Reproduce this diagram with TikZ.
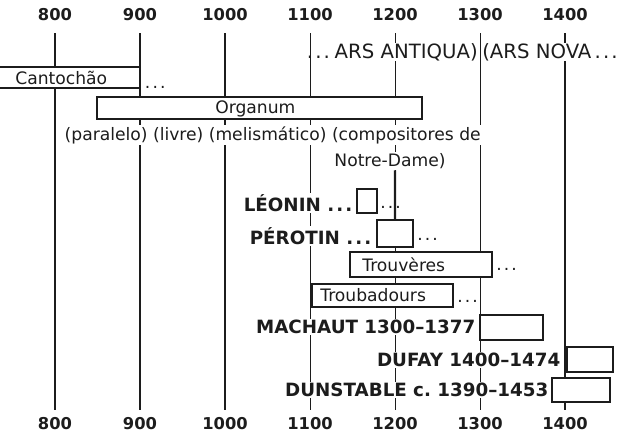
\documentclass[tikz,border=0pt]{standalone}
\usepackage{fontspec}
\setmainfont{DejaVu Sans}
\usetikzlibrary{positioning, fit}
\definecolor{ink}{HTML}{1C1C1C}
\newcommand{\tltext}{\fontsize{12.2}{14}\selectfont}
\newcommand{\tlbig}{\fontsize{14}{16}\selectfont}
\newcommand{\tldd}{.\kern1.5pt.\kern1.5pt.}
\tikzset{
  every node/.style = {text=ink},
  tlyear/.style  = {font=\fontsize{11.6}{13}\selectfont\bfseries, inner sep=0pt},
  tlthick/.style = {draw=ink, line width=1.5pt},
  tlthin/.style  = {draw=ink, line width=0.7pt},
  tlbar/.style   = {draw=ink, line width=1pt, fill=white, inner sep=0pt},
  tlin/.style    = {font=\tltext, anchor=west, inner sep=0pt},
  tlcap/.style   = {font=\tltext, fill=white, inner sep=1pt},
  tlname/.style  = {font=\fontsize{13}{15}\selectfont\bfseries, fill=white, inner sep=1pt, anchor=east},
  tldots/.style  = {font=\tltext, inner sep=0pt, anchor=base west},
  tlera/.style   = {font=\tlbig, fill=white, inner sep=0pt},
}

\begin{document}
\begin{tikzpicture}[x=0.025cm, y=-0.025cm]
\useasboundingbox (0,0) rectangle (631,437);

% time axis, top and bottom
\foreach \yr/\rs in {800/tlthick, 900/tlthick, 1000/tlthick, 1100/tlthin,
                     1200/tlthin, 1300/tlthin, 1400/tlthick} {
  \node[tlyear] (top\yr) at ({55+(\yr-800)*0.85},15) {\yr};
  \node[tlyear] (bot\yr) at ({55+(\yr-800)*0.85},424) {\yr};
  \draw[\rs, shorten <=0.3cm, shorten >=0.2cm] (top\yr) -- (bot\yr);
}

% eras
\node[tlera, anchor=east] (antiqua) at (478,52) {ARS ANTIQUA)};
\node[tlera, fill=none, anchor=base east] (arsdots) at ([xshift=-3pt]antiqua.base west) {\tldd};
\node[tlera, anchor=west] (nova) at (482,52) {(ARS NOVA\,\tldd};

% plainchant and organum
\node[tlbar, fit={(-12,67) (140,88)}] (canto) {};
\node[tlin] (cantot) at (15,77.5) {Cantochão};
\node[tldots] (cantod) at ([xshift=0.1cm]canto.south east) {\tldd};

\node[tlbar, fit={(97,97) (422,119)}] (organum) {};
\node[tlin] (organumt) at (215,108.5) {Organum};
\node[tlcap, anchor=west] (kinds) at (63,135) {(paralelo) (livre) (melismático) (compositores de};
\node[tlcap] (notre) at (390,161) {Notre-Dame)};

% Notre-Dame school
\node[tlbar, fit={(357,189) (377,213)}] (leonin) {};
\node[tlname] (leonint) at (354,203) {LÉONIN \tldd};
\node[tldots] (leonind) at (380,208) {\tldd};

\node[tlbar, fit={(377,220) (413,247)}] (perotin) {};
\node[tlname] (perotint) at (373,236) {PÉROTIN \tldd};
\node[tldots] (perotind) at (417,240) {\tldd};
\draw[tlthick] (notre.south -| top1200) -- (perotin.north);

% trouveres and troubadours
\node[tlbar, fit={(350,252) (492,277)}] (trouv) {};
\node[tlin] (trouvt) at (362,264.5) {Trouvères};
\node[tldots] (trouvd) at (496,270) {\tldd};

\node[tlbar, fit={(312,284) (453,307)}] (troub) {};
\node[tlin] (troubt) at (320,295.5) {Troubadours};
\node[tldots] (troubd) at (457,302) {\tldd};

% composers
\node[tlbar, fit={(480,315) (543,340)}] (machaut) {};
\node[tlname] (machautt) at (477,327) {MACHAUT 1300--1377};

\node[tlbar, fit={(567,347) (613,372)}] (dufay) {};
\node[tlname] (dufayt) at (562,360) {DUFAY 1400--1474};

\node[tlbar, fit={(552,378) (610,402)}] (dunst) {};
\node[tlname] (dunstt) at (550,390) {DUNSTABLE c.\ 1390--1453};
\end{tikzpicture}
\end{document}
